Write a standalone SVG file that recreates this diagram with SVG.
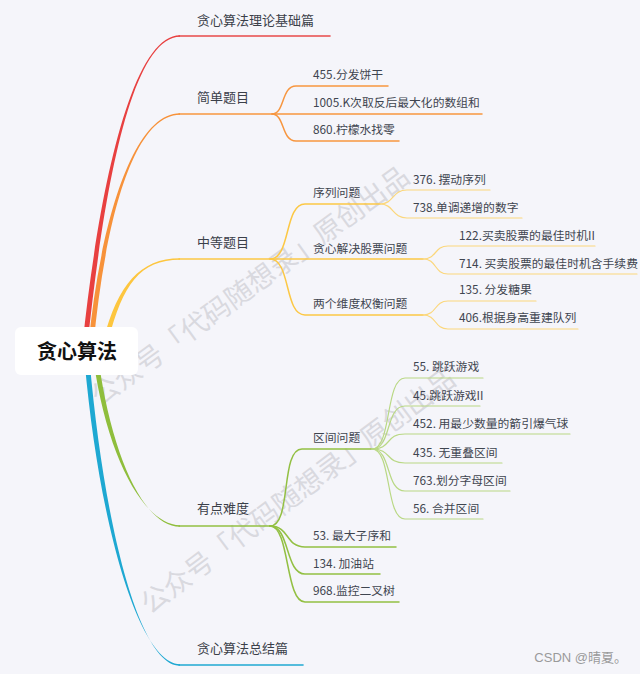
<svg xmlns="http://www.w3.org/2000/svg" width="640" height="674" viewBox="0 0 640 674">
<style>
text{font-family:"Noto Sans CJK SC","Liberation Sans",sans-serif;}
.l1{font-size:13px;fill:#3b4049;}
.l2{font-size:11.8px;fill:#3f4550;}
.wm{font-size:27.5px;fill:#d9d9df;}
.ln{fill:none;stroke-linecap:round;}
.red{stroke:#e84a4a;stroke-width:1.6;}
.org{stroke:#f7963f;stroke-width:1.5;}
.yel{stroke:#fcc845;stroke-width:1.5;}
.yel3{stroke:#fbd77c;stroke-width:1.2;}
.grn{stroke:#93c043;stroke-width:1.5;}
.grn3{stroke:#b9d884;stroke-width:1.2;}
.blu{stroke:#21a9d2;stroke-width:1.6;}
</style>
<rect width="640" height="674" fill="#f5f5fa"/>
<g id="watermarks">
<text class="wm" transform="translate(100,407) rotate(-36)">公众号「代码随想录」原创出品</text>
<text class="wm" transform="translate(150,615) rotate(-37)">公众号「代码随想录」原创出品</text>
</g>
<g id="connectors">
<path fill="#e84040" d="M82.5,345 C97.5,200 130,35.2 180,35.2 L180,36.8 C130,36.8 102.5,200 87.5,345 Z"/>
<path fill="#f7923a" d="M88.5,345 C98.5,236 130,113.2 180,113.2 L180,114.8 C130,114.8 103.5,236 93.5,345 Z"/>
<path fill="#fdc63f" d="M103.5,340 C117.5,285 140,258.2 180,258.2 L180,259.8 C140,259.8 122.5,285 108.5,340 Z"/>
<path fill="#8fbe3c" d="M93.5,360 C107.5,460 145,525.2 180,525.2 L180,526.8 C145,526.8 112.5,460 98.5,360 Z"/>
<path fill="#1ea8d2" d="M84.5,360 C99.5,530 140,664.2 180,664.2 L180,665.8 C140,665.8 104.5,530 89.5,360 Z"/>
<path class="ln red" d="M179 36 H330"/>
<path class="ln org" d="M179 114 H482"/>
<path class="ln org" d="M272 114 C285 114 281 86 296 86 H388"/>
<path class="ln org" d="M272 114 C285 114 281 141 296 141 H399"/>
<path class="ln yel" d="M179 259 H423"/>
<path class="ln yel" d="M270 259 C291 259 284 204 305 204 H380"/>
<path class="ln yel" d="M270 259 C291 259 284 315 305 315 H423"/>
<path class="ln yel3" d="M380 204 C394 204 392 190 407 190 H490"/>
<path class="ln yel3" d="M380 204 C394 204 392 218 407 218 H522"/>
<path class="ln yel3" d="M423 259 C437 259 434 246 448 246 H595"/>
<path class="ln yel3" d="M423 259 C437 259 434 274 448 274 H637"/>
<path class="ln yel3" d="M423 315 C437 315 434 301 448 301 H536"/>
<path class="ln yel3" d="M423 315 C437 315 434 329 448 329 H578"/>
<path class="ln grn" d="M179 526 H270"/>
<path class="ln grn" d="M270 526 C292 526 280 449 302 449 H372"/>
<path class="ln grn" d="M270 526 C290 526 285 547 305 547 H396"/>
<path class="ln grn" d="M270 526 C290 526 285 574 305 574 H380"/>
<path class="ln grn" d="M270 526 C290 526 285 602 305 602 H399"/>
<path class="ln grn3" d="M372 449 C392 449 385 378 405 378 H483"/>
<path class="ln grn3" d="M372 449 C392 449 385 406 405 406 H480"/>
<path class="ln grn3" d="M372 449 C392 449 385 434 405 434 H570"/>
<path class="ln grn3" d="M372 449 C392 449 385 463 405 463 H502"/>
<path class="ln grn3" d="M372 449 C392 449 385 491 405 491 H510"/>
<path class="ln grn3" d="M372 449 C392 449 385 519 405 519 H483"/>
<path class="ln blu" d="M179 665 H303"/>
</g>
<g id="root">
<rect x="15" y="327" width="123" height="48" rx="6" fill="#ffffff"/>
<text x="77" y="359" text-anchor="middle" font-size="20" font-weight="bold" fill="#111">贪心算法</text>
</g>
<g id="n-theory"><text class="l1" x="197" y="25">贪心算法理论基础篇</text></g>
<g id="n-easy"><text class="l1" x="197" y="102">简单题目</text></g>
<g id="n-455"><text class="l2" x="313" y="79">455.分发饼干</text></g>
<g id="n-1005"><text class="l2" x="313" y="107">1005.K次取反后最大化的数组和</text></g>
<g id="n-860"><text class="l2" x="313" y="134">860.柠檬水找零</text></g>
<g id="n-medium"><text class="l1" x="197" y="247">中等题目</text></g>
<g id="n-seq"><text class="l2" x="313" y="197">序列问题</text></g>
<g id="n-376"><text class="l2" x="413" y="184">376. 摆动序列</text></g>
<g id="n-738"><text class="l2" x="413" y="212">738.单调递增的数字</text></g>
<g id="n-stock"><text class="l2" x="313" y="253">贪心解决股票问题</text></g>
<g id="n-122"><text class="l2" x="459" y="240">122.买卖股票的最佳时机II</text></g>
<g id="n-714"><text class="l2" x="459" y="268">714. 买卖股票的最佳时机含手续费</text></g>
<g id="n-two"><text class="l2" x="313" y="308">两个维度权衡问题</text></g>
<g id="n-135"><text class="l2" x="459" y="294">135. 分发糖果</text></g>
<g id="n-406"><text class="l2" x="459" y="322">406.根据身高重建队列</text></g>
<g id="n-hard"><text class="l1" x="197" y="513">有点难度</text></g>
<g id="n-interval"><text class="l2" x="313" y="442">区间问题</text></g>
<g id="n-55"><text class="l2" x="413" y="371">55. 跳跃游戏</text></g>
<g id="n-45"><text class="l2" x="413" y="400">45.跳跃游戏II</text></g>
<g id="n-452"><text class="l2" x="413" y="428">452. 用最少数量的箭引爆气球</text></g>
<g id="n-435"><text class="l2" x="413" y="457">435. 无重叠区间</text></g>
<g id="n-763"><text class="l2" x="413" y="485">763.划分字母区间</text></g>
<g id="n-56"><text class="l2" x="413" y="513">56. 合并区间</text></g>
<g id="n-53"><text class="l2" x="313" y="540">53. 最大子序和</text></g>
<g id="n-134"><text class="l2" x="313" y="568">134. 加油站</text></g>
<g id="n-968"><text class="l2" x="313" y="595">968.监控二叉树</text></g>
<g id="n-summary"><text class="l1" x="197" y="653">贪心算法总结篇</text></g>
<text x="627" y="662" text-anchor="end" font-size="13" fill="#9a9a9a" style="font-family:'Liberation Sans','Noto Sans CJK SC',sans-serif">CSDN @晴夏。</text>
</svg>
